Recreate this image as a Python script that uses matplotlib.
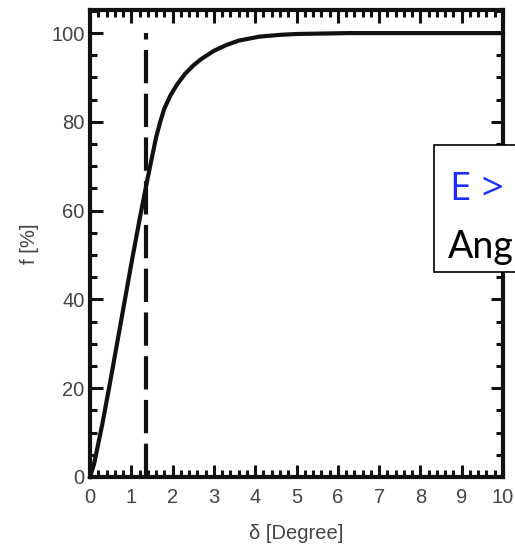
import matplotlib.pyplot as plt
from matplotlib.patches import Rectangle
from matplotlib.ticker import MultipleLocator

# Curve
delta = [0, 0.1, 0.3, 0.5, 0.75, 1.0, 1.2, 1.4, 1.5, 1.6, 1.7, 1.8, 1.95, 2.1, 2.3, 2.5,
         2.7, 3.0, 3.3, 3.6, 4.1, 4.6, 5.0, 6.3, 8.0, 10.0]
frac = [0, 3, 12, 22, 35, 48, 58, 67.5, 72, 76.5, 80, 83, 86, 88.3, 90.8, 92.7,
        94.2, 96, 97.3, 98.3, 99.2, 99.6, 99.8, 100, 100, 100]

# Vertical dashed marker
cut_x = 1.36
cut_y = [0, 100]

xticks = list(range(0, 11))
yticks = [0, 20, 40, 60, 80, 100]

plt.rcParams['font.family'] = ['Liberation Sans', 'DejaVu Sans']

fig = plt.figure(figsize=(5.15, 5.47), dpi=100)
ax = fig.add_axes([90 / 515, 70 / 547, 413 / 515, 467 / 547])

ax.plot(delta, frac, color="#111111", lw=3.0, solid_joinstyle="round", clip_on=False, zorder=3)
ax.plot([cut_x, cut_x], cut_y, color="#111111", lw=3.0, dashes=(8, 2.5), zorder=3)

ax.set_xlim(0, 10)
ax.set_ylim(0, 105.2)
ax.set_xticks(xticks)
ax.set_yticks(yticks)
ax.xaxis.set_minor_locator(MultipleLocator(0.2))
ax.yaxis.set_minor_locator(MultipleLocator(5))

for s in ax.spines.values():
    s.set_linewidth(3)
    s.set_color("#111111")

ax.tick_params(which="both", direction="in", top=True, right=True,
               color="#111111", width=2.2, labelsize=14.5, labelcolor="#444444")
ax.tick_params(which="major", length=9)
ax.tick_params(axis="x", which="major", pad=8)
ax.tick_params(axis="y", which="major", pad=4)
ax.tick_params(which="minor", length=5)

ax.set_xlabel("δ [Degree]", fontsize=14.5, color="#444444", labelpad=12)
ax.set_ylabel("f [%]", fontsize=14.5, color="#444444", labelpad=9)

# Overlay box at the right edge
box = Rectangle((434 / 515, (547 - 272) / 547), 0.3, 127 / 547, transform=fig.transFigure,
                facecolor="white", edgecolor="black", lw=1.2, zorder=10, clip_on=False)
fig.patches.append(box)
fig.text(450 / 515, (547 - 200) / 547, "E >", color="#1a2cff", fontsize=28,
         family=["Open Sans"], va="baseline", zorder=11)
fig.text(448 / 515, (547 - 258) / 547, "Ang", color="black", fontsize=27,
         family=["Lato"], va="baseline", zorder=11)

fig.savefig("out.png", dpi=100)
